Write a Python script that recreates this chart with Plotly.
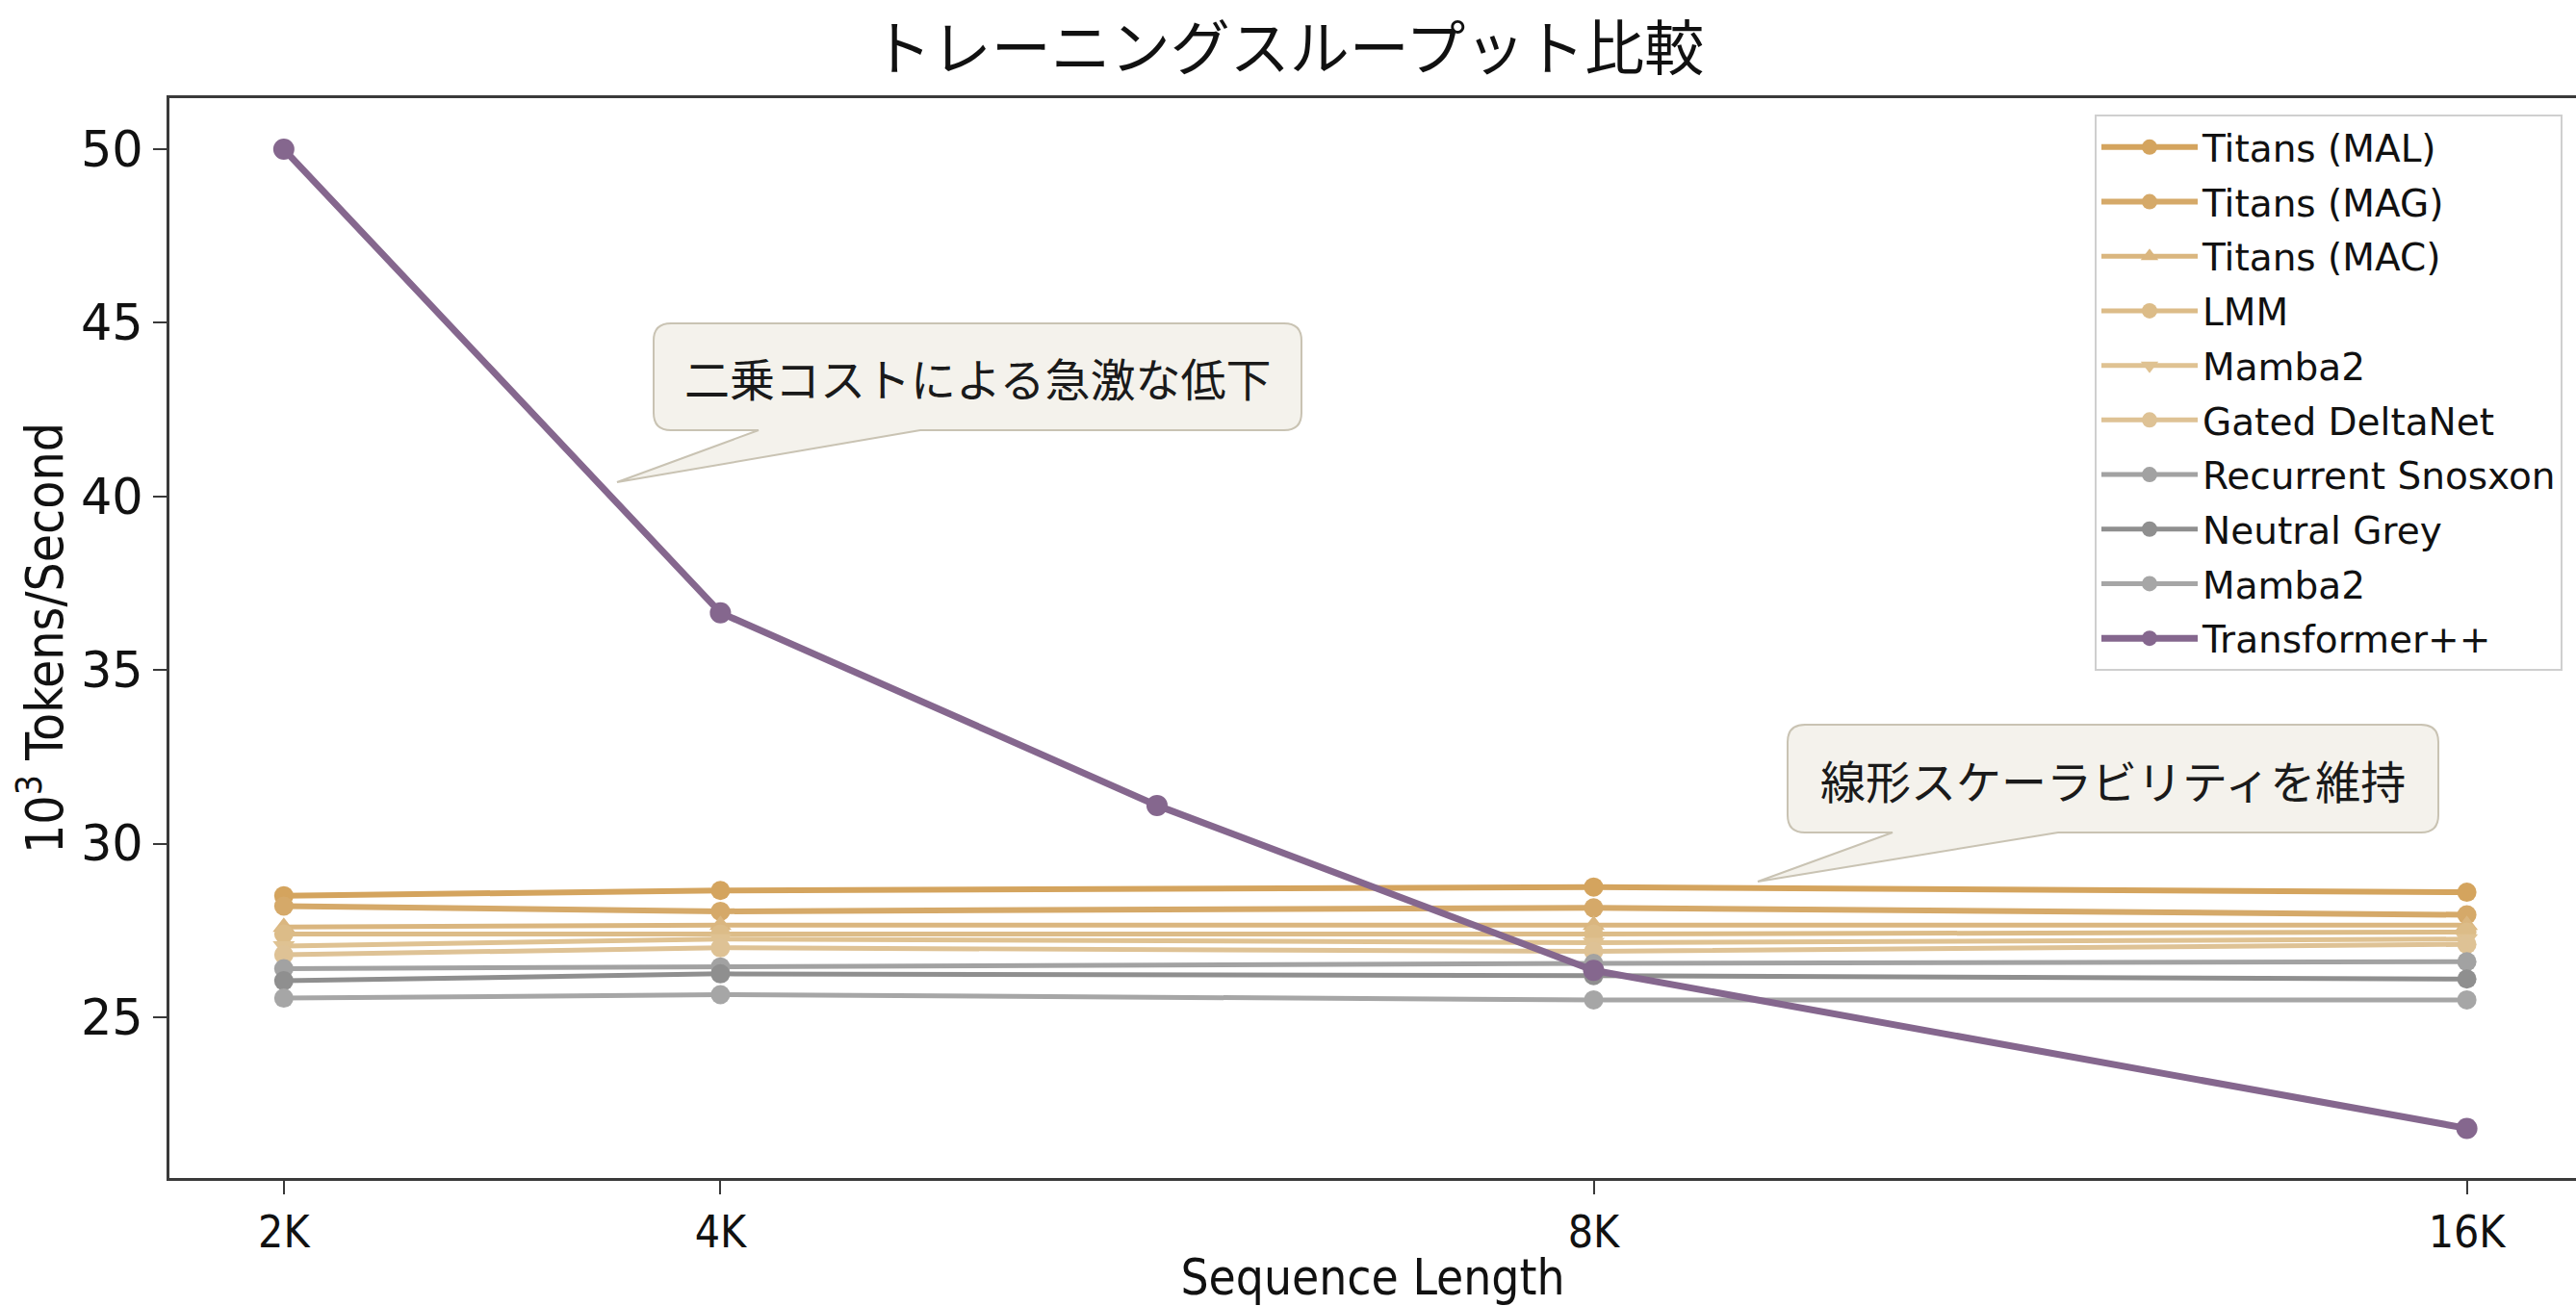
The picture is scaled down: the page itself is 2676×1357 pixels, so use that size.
import plotly.graph_objects as go

# ---------------- data ----------------
tick_labels = ["2K", "4K", "8K", "16K"]
tick_positions = [0, 1, 3, 5]          # position of each sequence length on the axis
linear_x = [0, 1, 3, 5]                # sampled points for the linear-cost models
transformer_x = [0, 1, 2, 3, 5]        # sampled points for Transformer++

titans_mal = [28.50, 28.65, 28.75, 28.60]
titans_mag = [28.20, 28.05, 28.15, 27.95]
titans_mac = [27.60, 27.65, 27.65, 27.65]
lmm = [27.40, 27.40, 27.40, 27.45]
mamba2_a = [27.05, 27.25, 27.15, 27.25]
gated_deltanet = [26.80, 27.00, 26.90, 27.10]
recurrent = [26.40, 26.45, 26.55, 26.60]
neutral_grey = [26.05, 26.25, 26.20, 26.10]
mamba2_b = [25.55, 25.65, 25.50, 25.50]
transformer = [50.0, 36.65, 31.10, 26.35, 21.80]

series_names = ["Titans (MAL)", "Titans (MAG)", "Titans (MAC)", "LMM", "Mamba2",
                "Gated DeltaNet", "Recurrent Snosxon", "Neutral Grey", "Mamba2"]
series_values = [titans_mal, titans_mag, titans_mac, lmm, mamba2_a,
                 gated_deltanet, recurrent, neutral_grey, mamba2_b]
series_colors = ["#D4A45E", "#D5A969", "#DAB67F", "#DCBC88", "#DFC292",
                 "#DEC295", "#A2A2A2", "#8F8F8F", "#A6A6A6"]
series_symbols = ["circle", "circle", "triangle-up", "circle", "triangle-down",
                  "circle", "circle", "circle", "circle"]
series_widths = [6, 6, 5, 5, 5, 5, 5, 5, 5]

W, H = 2676, 1357
L, R, T, B = 176, 0, 102, 133
PW, PH = W - L - R, H - T - B

fig = go.Figure()
for i, (name, vals, col, sym, lw) in enumerate(zip(series_names, series_values, series_colors,
                                                   series_symbols, series_widths)):
    fig.add_trace(go.Scatter(
        x=linear_x, y=vals, name=name, mode="lines+markers",
        line=dict(color=col, width=lw),
        marker=dict(color=col, size=20, symbol=sym),
        legendgroup=f"g{i}",
    ))

fig.add_trace(go.Scatter(
    x=transformer_x, y=transformer, name="Transformer++", mode="lines+markers",
    line=dict(color="#85678E", width=7),
    marker=dict(color="#85678E", size=22, symbol="circle"),
    legendgroup="g_t",
))


def to_paper(px, py):
    return (px - L) / PW, (H - B - py) / PH


def callout_path(x0, y0, x1, y1, r, b0, b1, tx, ty):
    pts = []
    def P(cmd, *coords):
        s = cmd
        for k in range(0, len(coords), 2):
            ux, uy = to_paper(coords[k], coords[k + 1])
            s += f" {ux:.5f},{uy:.5f}"
        pts.append(s)
    P("M", x0 + r, y0)
    P("L", x1 - r, y0)
    P("Q", x1, y0, x1, y0 + r)
    P("L", x1, y1 - r)
    P("Q", x1, y1, x1 - r, y1)
    P("L", b1, y1)
    P("L", tx, ty)
    P("L", b0, y1)
    P("L", x0 + r, y1)
    P("Q", x0, y1, x0, y1 - r)
    P("L", x0, y0 + r)
    P("Q", x0, y0, x0 + r, y0)
    return " ".join(pts) + " Z"


callouts = [
    dict(box=(679, 336, 1352, 447), tail=(788, 956), tip=(641, 501),
         text="二乗コストによる急激な低下"),
    dict(box=(1857, 753, 2533, 865), tail=(1966, 2138), tip=(1826, 916),
         text="線形スケーラビリティを維持"),
]
for c in callouts:
    x0, y0, x1, y1 = c["box"]
    fig.add_shape(type="path", xref="paper", yref="paper",
                  path=callout_path(x0, y0, x1, y1, 18, c["tail"][0], c["tail"][1], *c["tip"]),
                  fillcolor="#F4F2EC", line=dict(color="#C9C3B3", width=2), layer="above")
    cx, cy = to_paper((x0 + x1) / 2, (y0 + y1) / 2)
    fig.add_annotation(x=cx, y=cy, xref="paper", yref="paper", text=c["text"], showarrow=False,
                       xanchor="center", yanchor="middle",
                       font=dict(family="Noto Sans CJK JP", size=47, color="#1a1a1a"))

cond = "DejaVu Sans Condensed, Liberation Sans Narrow, DejaVu Sans"
lx, ly = to_paper(2662, 119)

fig.update_layout(
    width=W, height=H,
    margin=dict(l=L, r=R, t=T, b=B, autoexpand=False),
    paper_bgcolor="white", plot_bgcolor="white",
    title=dict(text="トレーニングスループット比較", x=0.5, xanchor="center", y=0.962, yanchor="middle",
               font=dict(family="Noto Sans CJK JP", size=62, color="#111")),
    xaxis=dict(
        automargin=False,
        range=[-0.262, 5.25], tickmode="array", tickvals=tick_positions, ticktext=tick_labels,
        showgrid=False, zeroline=False, showline=True, linecolor="#3a3a3a", linewidth=3,
        mirror=True, ticks="outside", ticklen=14, tickwidth=2, tickcolor="#3a3a3a",
        tickfont=dict(family=cond, size=46, color="#111"),
        title=dict(text="Sequence Length", font=dict(family=cond, size=51, color="#111"), standoff=4),
    ),
    yaxis=dict(
        automargin=False,
        range=[20.37, 51.47], tickmode="array", tickvals=[25, 30, 35, 40, 45, 50],
        showgrid=False, zeroline=False, showline=True, linecolor="#3a3a3a", linewidth=3,
        ticks="outside", ticklen=14, tickwidth=2, tickcolor="#3a3a3a",
        tickfont=dict(family="DejaVu Sans", size=51, color="#111"),
        title=dict(text="10<sup>3</sup> Tokens/Second", font=dict(family=cond, size=53, color="#111"),
                   standoff=2),
    ),
    legend=dict(x=lx, y=ly, xanchor="right", yanchor="top",
                bgcolor="white", bordercolor="#CFCFCF", borderwidth=2,
                font=dict(family="DejaVu Sans", size=39, color="#111"),
                itemwidth=100,
                traceorder="grouped", tracegroupgap=3),
    showlegend=True,
)

fig.write_html(
    "out.html",
    config={"displayModeBar": False},
    post_script="document.body.style.margin='0';document.body.style.overflow='hidden';",
)
